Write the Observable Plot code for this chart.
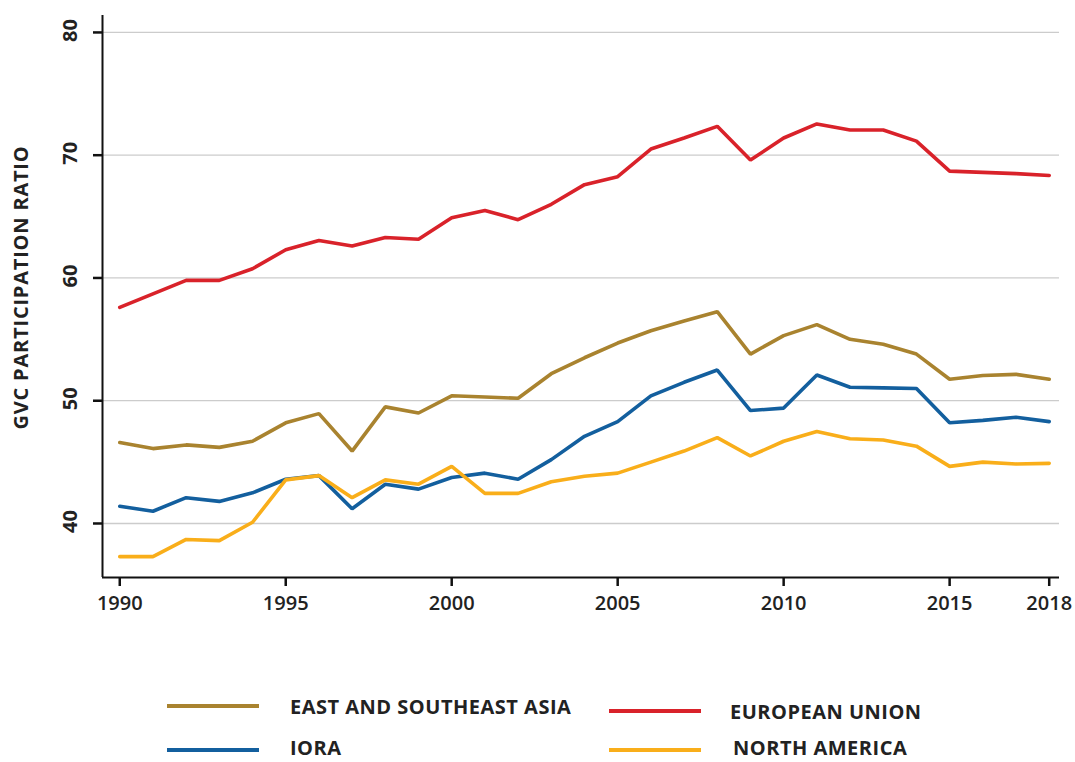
<!DOCTYPE html>
<html>
<head>
<meta charset="utf-8">
<script src="https://cdn.jsdelivr.net/npm/d3@7"></script>
<script src="https://cdn.jsdelivr.net/npm/@observablehq/plot@0.6"></script>
<style>
  html, body { margin: 0; padding: 0; background: #fff; }
  #wrap { position: relative; width: 1075px; height: 762px; font-family: "Open Sans", sans-serif; }
  #chart { position: absolute; left: 0; top: 0; }
  .lg-swatch { position: absolute; height: 4px; width: 92px; }
  .lg-label { position: absolute; font-size: 20px; font-weight: 700; letter-spacing: 0.5px; color: #222; line-height: 16px; height: 16px; white-space: nowrap; transform: translateY(-50%); }
  .ytitle { letter-spacing: 0.8px; }
</style>
</head>
<body>
<div id="wrap">
  <div id="chart"></div>
  <div id="legend"></div>
</div>
<script>
const years = [1990,1991,1992,1993,1994,1995,1996,1997,1998,1999,2000,2001,2002,2003,2004,2005,2006,2007,2008,2009,2010,2011,2012,2013,2014,2015,2016,2017,2018];
const eastSoutheastAsia = [46.6,46.1,46.4,46.2,46.7,48.2,48.95,45.9,49.5,49.0,50.4,50.3,50.2,52.2,53.5,54.7,55.7,56.5,57.25,53.8,55.3,56.2,55.0,54.6,53.8,51.75,52.05,52.15,51.75];
const europeanUnion = [57.6,58.7,59.8,59.8,60.75,62.3,63.05,62.6,63.3,63.15,64.9,65.5,64.75,66.0,67.6,68.25,70.5,71.4,72.35,69.6,71.4,72.55,72.05,72.05,71.15,68.7,68.6,68.5,68.35];
const iora = [41.4,41.0,42.1,41.8,42.5,43.6,43.9,41.2,43.2,42.8,43.75,44.1,43.6,45.2,47.1,48.3,50.4,51.5,52.5,49.2,49.4,52.1,51.1,51.05,51.0,48.2,48.4,48.65,48.3];
const northAmerica = [37.3,37.3,38.7,38.6,40.1,43.55,43.9,42.1,43.55,43.2,44.65,42.45,42.45,43.4,43.85,44.1,45.0,45.9,47.0,45.5,46.7,47.5,46.9,46.8,46.3,44.65,45.0,44.85,44.9];

const seriesNames = ["EAST AND SOUTHEAST ASIA", "EUROPEAN UNION", "IORA", "NORTH AMERICA"];
const seriesValues = [eastSoutheastAsia, europeanUnion, iora, northAmerica];
const seriesColors = ["#A9832F", "#D9222A", "#135F9E", "#F9AE1A"];
const xTicks = [1990, 1995, 2000, 2005, 2010, 2015, 2018];
const yTicks = [40, 50, 60, 70, 80];
const yTitle = "GVC PARTICIPATION RATIO";

const xDomain = [1989.48, 2018.31];
const yDomain = [35.6, 81.38];

const rows = seriesNames.flatMap((name, i) =>
  years.map((year, j) => ({ series: name, year, value: seriesValues[i][j] }))
);

const chart = Plot.plot({
  width: 1075,
  height: 620,
  marginLeft: 102,
  marginRight: 16,
  marginTop: 15,
  marginBottom: 43,
  style: { fontFamily: "'Open Sans', sans-serif", background: "white", color: "#222" },
  x: { type: "linear", domain: xDomain, axis: null },
  y: { type: "linear", domain: yDomain, axis: null },
  color: { domain: seriesNames, range: seriesColors },
  marks: [
    Plot.gridY(yTicks, { stroke: "#cccccc", strokeOpacity: 1, strokeWidth: 1.3 }),
    Plot.line(rows, { x: "year", y: "value", z: "series", stroke: "series", strokeWidth: 3.6, strokeLinejoin: "miter" }),
    Plot.ruleX([xDomain[0]], { stroke: "#111", strokeWidth: 2 }),
    Plot.ruleY([yDomain[0]], { stroke: "#111", strokeWidth: 2 }),
    Plot.axisX(xTicks, { tickSize: 9, tickPadding: 9, fontSize: 20, fontWeight: 600, fill: "#222", stroke: "#111", strokeWidth: 2.5, tickFormat: d => String(d), label: null }),
    Plot.axisY(yTicks, { tickSize: 9, stroke: "#111", strokeWidth: 2.5, tickFormat: () => "", label: null }),
    Plot.text(yTicks, { y: d => d, text: d => String(d), frameAnchor: "left", textAnchor: "middle", dx: -31.5, dy: -2, rotate: -90, fontSize: 20, fontWeight: 700, fill: "#222" }),
    Plot.text([yTitle], { text: d => d, frameAnchor: "left", textAnchor: "middle", dx: -81, dy: -9, rotate: -90, fontSize: 20, fontWeight: 700, fill: "#222", className: "ytitle" })
  ]
});
document.getElementById("chart").appendChild(chart);

// Legend (HTML, below the SVG)
const legend = document.getElementById("legend");
const legendLayout = [
  { swatchLeft: 167, labelLeft: 290, y: 706, textY: 706 },
  { swatchLeft: 609, labelLeft: 730, y: 711, textY: 711 },
  { swatchLeft: 167, labelLeft: 290, y: 750, textY: 747 },
  { swatchLeft: 609, labelLeft: 733, y: 750, textY: 747 }
];
seriesNames.forEach((name, i) => {
  const pos = legendLayout[i];
  const sw = document.createElement("div");
  sw.className = "lg-swatch";
  sw.style.left = pos.swatchLeft + "px";
  sw.style.top = (pos.y - 2) + "px";
  sw.style.background = seriesColors[i];
  legend.appendChild(sw);
  const lb = document.createElement("div");
  lb.className = "lg-label";
  lb.style.left = pos.labelLeft + "px";
  lb.style.top = (pos.textY + 1) + "px";
  lb.textContent = name;
  legend.appendChild(lb);
});
</script>
</body>
</html>
